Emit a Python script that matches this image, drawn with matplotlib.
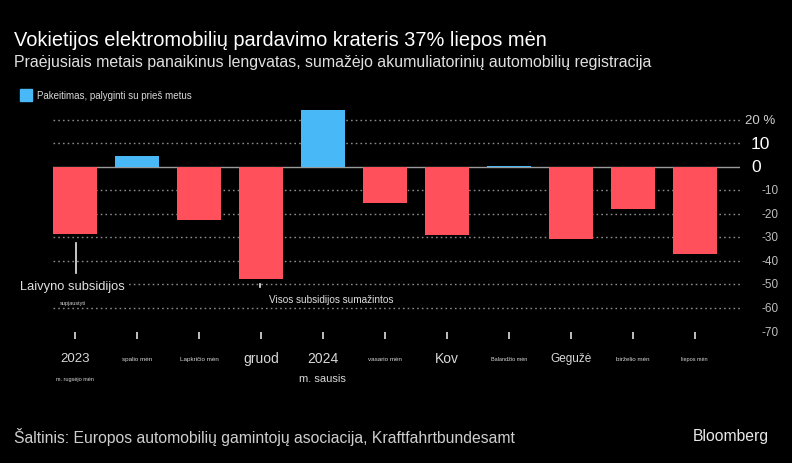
import matplotlib
matplotlib.use('Agg')
import matplotlib.pyplot as plt
import matplotlib.transforms as mtransforms

plt.rcParams['font.family'] = ['Liberation Sans', 'DejaVu Sans']

# data: year-over-year change in German EV registrations, %
months = ['2023-09', '2023-10', '2023-11', '2023-12', '2024-01', '2024-02',
          '2024-03', '2024-04', '2024-05', '2024-06', '2024-07']
change = [-28.5, 4.6, -22.5, -47.7, 24.3, -15.3, -29.0, 0.3, -30.6, -18.0, -37.0]

# x tick labels: (main, second line, size of main, size of second line)
tick_main = ['2023', 'spalio mėn', 'Lapkričio mėn', 'gruod', '2024', 'vasario mėn',
             'Kov', 'Balandžio mėn', 'Gegužė', 'birželio mėn', 'liepos mėn']
tick_sub = ['m. rugsėjo mėn', '', '', '', 'm. sausis', '', '', '', '', '', '']
tick_main_size = [9.5, 4.5, 4.5, 10, 10, 4.5, 10, 4, 8.5, 4.5, 4]
tick_sub_size = [4, 0, 0, 0, 8, 0, 0, 0, 0, 0, 0]

yticks = [20, 10, 0, -10, -20, -30, -40, -50, -60, -70]
ytick_labels = ['20 %', '10', '0', '-10', '-20', '-30', '-40', '-50', '-60', '-70']

RED = '#FF505C'
BLUE = '#48B8F7'
BG = '#000000'

fig = plt.figure(figsize=(7.92, 4.64), dpi=100, facecolor=BG)
ax = fig.add_axes([0.0669, 0.2834, 0.8674, 0.4812], facecolor=BG)

x = list(range(len(months)))
colors = [BLUE if v > 0 else RED for v in change]
ax.bar(x, change, width=0.71, color=colors, zorder=3)

ax.set_xlim(-0.355, 10.73)
ax.set_ylim(-70, 25)

# grid
for v in yticks:
    if v == 0:
        ax.axhline(0, color='#9a9a9a', lw=1.0, zorder=2)
    elif v > -70:
        ax.axhline(v, color='#8a8a8a', lw=1.0, ls=(0, (1.2, 2.2)), zorder=1)

for s in ax.spines.values():
    s.set_visible(False)
ax.set_yticks([])
ax.set_xticks(x)
ax.set_xticklabels([])
ax.tick_params(axis='x', colors='#e0e0e0', length=5, width=1.2, direction='out', pad=0)

# right side y labels
ytr = mtransforms.blended_transform_factory(ax.transAxes, ax.transData)
for v, lab in zip(yticks, ytick_labels):
    if lab == '20 %':
        ax.text(1.007, v, lab, transform=ytr, color='#cfcfcf', fontsize=9.5,
                va='center', ha='left')
    elif v in (10, 0):
        ax.text(1.016, v, lab, transform=ytr, color='#ffffff', fontsize=12.5,
                va='center', ha='left')
    else:
        ax.text(1.031, v, lab, transform=ytr, color='#bdbdbd', fontsize=8.5,
                va='center', ha='left')

# x labels
xtr = mtransforms.blended_transform_factory(ax.transData, ax.transAxes)
for i in x:
    ax.text(i, -0.12, tick_main[i], transform=xtr, color='#d8d8d8',
            fontsize=tick_main_size[i], ha='center', va='center')
    if tick_sub[i]:
        ax.text(i, -0.21, tick_sub[i], transform=xtr, color='#d8d8d8',
                fontsize=tick_sub_size[i], ha='center', va='center')

# annotations
ax.plot([0.02, 0.02], [-32.5, -45], color='#e8e8e8', lw=1.2, zorder=4)
ax.text(-0.05, -50.7, 'Laivyno subsidijos', color='#e0e0e0', fontsize=9.3,
        ha='center', va='center', zorder=5,
        bbox=dict(facecolor=BG, edgecolor='none', pad=1.5))
ax.text(-0.03, -57.5, 'supjaustyti', color='#d0d0d0', fontsize=4,
        ha='center', va='center', zorder=5)
ax.plot([2.98, 2.98], [-50.0, -51.2], color='#e8e8e8', lw=1.2, zorder=4)
ax.text(4.13, -56.0, 'Visos subsidijos sumažintos', color='#e0e0e0', fontsize=7.2,
        ha='center', va='center', zorder=5,
        bbox=dict(facecolor=BG, edgecolor='none', pad=1.0))

# titles
fig.text(14 / 792, 1 - 40 / 464, 'Vokietijos elektromobilių pardavimo krateris 37% liepos mėn',
         color='#ffffff', fontsize=14.45, ha='left', va='center')
fig.text(14 / 792, 1 - 62 / 464,
         'Praėjusiais metais panaikinus lengvatas, sumažėjo akumuliatorinių automobilių registracija',
         color='#e0e0e0', fontsize=11.4, ha='left', va='center')

# legend
fig.patches.append(plt.Rectangle((20 / 792, 1 - 102 / 464), 12 / 792, 12 / 464,
                                 transform=fig.transFigure, color=BLUE, figure=fig))
fig.text(37 / 792, 1 - 96 / 464, 'Pakeitimas, palyginti su prieš metus',
         color='#d8d8d8', fontsize=7.05, ha='left', va='center')

# footer
fig.text(14 / 792, 1 - 437 / 464,
         'Šaltinis: Europos automobilių gamintojų asociacija, Kraftfahrtbundesamt',
         color='#cfcfcf', fontsize=11.3, ha='left', va='center')
fig.text(769 / 792, 1 - 437 / 464, 'Bloomberg', color='#e8e8e8', fontsize=11.3,
         ha='right', va='center')

fig.savefig('out.png', dpi=100, facecolor=BG)
